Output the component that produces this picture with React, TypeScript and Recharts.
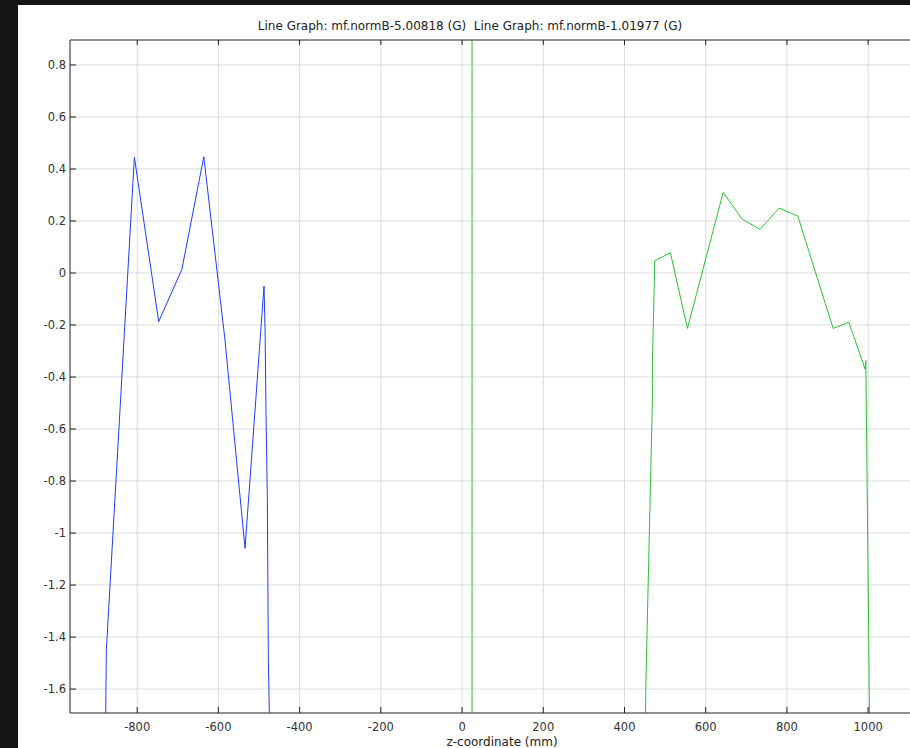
import { LineChart, Line, XAxis, YAxis, CartesianGrid } from "recharts";

// Blue trace: mf.normB-5.00818 (G)
const blueX = [-881, -876, -807, -747, -690, -636, -584, -534.5, -487.7, -485, -482.8, -479.6, -477, -474.6, -474];
const blueY = [-2.2, -1.45, 0.445, -0.187, 0.014, 0.447, -0.255, -1.059, -0.05, -0.226, -0.54, -0.86, -1.49, -1.69, -2.2];

// Green trace: mf.normB-1.01977 (G)
const greenX = [449.5, 452.5, 468.7, 468.7, 471.2, 474.6, 513, 555, 643, 689.7, 734, 780.8, 826.8, 913.8, 952.5, 992.6, 994.3, 1001.7, 1003.2, 1003.5];
const greenY = [-2.2, -1.59, -0.488, -0.341, -0.187, 0.047, 0.078, -0.213, 0.31, 0.207, 0.168, 0.25, 0.219, -0.213, -0.19, -0.37, -0.337, -1.45, -1.69, -2.2];

// vertical marker line
const markerX = [24.6, 24.6];
const markerY = [-2.2, 1.2];

const xTicks = [-800, -600, -400, -200, 0, 200, 400, 600, 800, 1000];
const yTicks = [0.8, 0.6, 0.4, 0.2, 0, -0.2, -0.4, -0.6, -0.8, -1, -1.2, -1.4, -1.6];

const zip = (xs: number[], ys: number[]) => xs.map((x, i) => ({ x, y: ys[i] }));
const blueData = zip(blueX, blueY);
const greenData = zip(greenX, greenY);
const markerData = zip(markerX, markerY);

const font = "'DejaVu Sans', sans-serif";
const fmtY = (v: number) => Number(v.toFixed(1)).toString();

function LeftTick(props: any) {
  const { x, y, payload } = props;
  return (
    <g>
      <line x1={x + 4} x2={x + 10} y1={y} y2={y} stroke="#222" />
      <text x={x} y={y} dy={4} textAnchor="end" fontSize={11.5} fontFamily={font} fill="#333">
        {fmtY(payload.value)}
      </text>
    </g>
  );
}

function BottomTick(props: any) {
  const { x, y, payload } = props;
  return (
    <g>
      <line x1={x} x2={x} y1={y} y2={y - 6} stroke="#222" />
      <text x={x} y={y + 18} textAnchor="middle" fontSize={11.5} fontFamily={font} fill="#333">
        {payload.value}
      </text>
    </g>
  );
}

function TopTick(props: any) {
  const { x, y } = props;
  return <line x1={x} x2={x} y1={y} y2={y + 5} stroke="#222" />;
}

export default function App() {
  return (
    <div style={{ position: "absolute", left: 0, top: 0, width: 910, height: 748, background: "#141414", overflow: "hidden" }}>
      <div style={{ position: "absolute", left: 18, top: 5, width: 900, height: 743, background: "#fff" }}>
        <LineChart width={894} height={743} margin={{ top: 30, right: 0, bottom: 0, left: 0 }}>
          <CartesianGrid stroke="#dcdcdc" />
          <XAxis
            dataKey="x"
            type="number"
            domain={[-965.5, 1108]}
            ticks={xTicks}
            allowDataOverflow
            height={35}
            tickSize={0}
            tickMargin={0}
            tick={<BottomTick />}
            axisLine={{ stroke: "#333" }}
            interval={0}
          />
          <XAxis
            xAxisId="top"
            dataKey="x"
            type="number"
            orientation="top"
            domain={[-965.5, 1108]}
            ticks={xTicks}
            allowDataOverflow
            height={5}
            tickSize={0}
            tickMargin={0}
            tick={<TopTick />}
            axisLine={{ stroke: "#333" }}
            interval={0}
          />
          <YAxis
            type="number"
            domain={[-1.692, 0.896]}
            ticks={yTicks}
            allowDataOverflow
            width={52}
            tickSize={0}
            tickMargin={4}
            tick={<LeftTick />}
            axisLine={{ stroke: "#333" }}
            interval={0}
          />
          <Line data={markerData} dataKey="y" stroke="#7ed67e" strokeWidth={1.6} dot={false} isAnimationActive={false} />
          <Line data={blueData} dataKey="y" stroke="#1f3dff" strokeWidth={1} dot={false} isAnimationActive={false} />
          <Line data={greenData} dataKey="y" stroke="#2fbf3a" strokeWidth={1} dot={false} isAnimationActive={false} />
        </LineChart>
      </div>
      <div style={{ position: "absolute", left: 170, top: 19, width: 600, textAlign: "center", fontFamily: font, fontSize: 12, lineHeight: "14px", color: "#222", whiteSpace: "pre" }}>
        {"Line Graph: mf.normB-5.00818 (G)  Line Graph: mf.normB-1.01977 (G)"}
      </div>
      <div style={{ position: "absolute", left: 302, top: 735, width: 400, textAlign: "center", fontFamily: font, fontSize: 12, lineHeight: "14px", color: "#222" }}>
        z-coordinate (mm)
      </div>
    </div>
  );
}
